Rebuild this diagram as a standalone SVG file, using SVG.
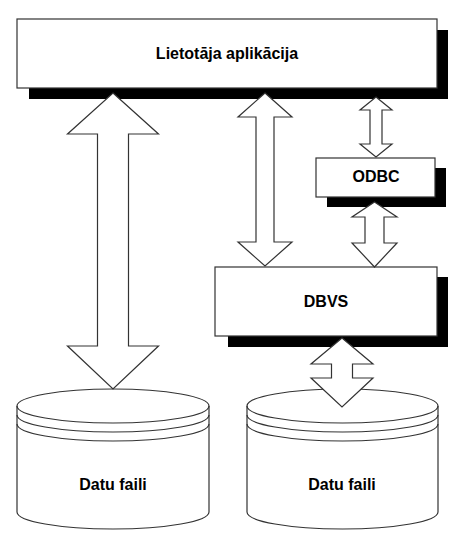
<svg xmlns="http://www.w3.org/2000/svg" width="458" height="545" viewBox="0 0 458 545">
<style>
.bg{fill:#ffffff}
.box{fill:#ffffff;stroke:#333333;stroke-width:1.2}
.shadow{fill:#000000}
.cyl{fill:#ffffff;stroke:#333333;stroke-width:1.2}
.arc{fill:none;stroke:#333333;stroke-width:1.2}
.arrow{fill:#ffffff;stroke:#333333;stroke-width:1.2;stroke-linejoin:miter}
.lbl{font-family:"Liberation Sans",Arial,sans-serif;font-weight:bold;font-size:16px;fill:#000000;text-anchor:middle}
</style>
<rect class="bg" x="0" y="0" width="458" height="545"/>
<g id="app">
<rect class="shadow" x="29" y="30" width="419" height="69"/>
<rect class="box" x="17" y="19" width="420" height="69"/>
<text class="lbl" x="227" y="59">Lietotāja aplikācija</text>
</g>
<g id="odbc">
<rect class="shadow" x="327" y="168" width="119" height="39"/>
<rect class="box" x="316" y="158" width="119" height="39"/>
<text class="lbl" x="376" y="182">ODBC</text>
</g>
<g id="dbvs">
<rect class="shadow" x="228" y="277" width="220" height="70"/>
<rect class="box" x="215" y="267" width="222" height="69"/>
<text class="lbl" x="326" y="307">DBVS</text>
</g>
<g id="files1">
<path class="cyl" d="M17,406 A96,17 0 0 1 209,406 L209,512 A96,17 0 0 1 17,512 Z"/>
<path class="arc" d="M17,406 A96,17 0 0 0 209,406"/>
<path class="arc" d="M17,415 A96,17 0 0 0 209,415"/>
<path class="arc" d="M17,424 A96,17 0 0 0 209,424"/>
<text class="lbl" x="113" y="490">Datu faili</text>
</g>
<g id="files2">
<path class="cyl" d="M247,406 A95.5,17 0 0 1 438,406 L438,512 A95.5,17 0 0 1 247,512 Z"/>
<path class="arc" d="M247,406 A95.5,17 0 0 0 438,406"/>
<path class="arc" d="M247,415 A95.5,17 0 0 0 438,415"/>
<path class="arc" d="M247,424 A95.5,17 0 0 0 438,424"/>
<text class="lbl" x="342" y="490">Datu faili</text>
</g>
<g id="connectors">
<path class="arrow" d="M113,93 L158.5,134 L128.5,134 L128.5,346 L158.5,346 L113,389 L67.5,346 L97.5,346 L97.5,134 L67.5,134 Z"/>
<path class="arrow" d="M265,93 L292,117 L274,117 L274,242 L292,242 L265,266 L238,242 L256,242 L256,117 L238,117 Z"/>
<path class="arrow" d="M376,97 L392,110 L382,110 L382,144 L392,144 L376,157 L360,144 L370,144 L370,110 L360,110 Z"/>
<path class="arrow" d="M374.5,202 L397,217 L384,217 L384,243 L397,243 L374.5,267 L352,243 L365,243 L365,217 L352,217 Z"/>
<path class="arrow" d="M342,338 L373,364 L352.5,364 L352.5,378 L373,378 L342,407 L311,378 L331.5,378 L331.5,364 L311,364 Z"/>
</g>
</svg>
